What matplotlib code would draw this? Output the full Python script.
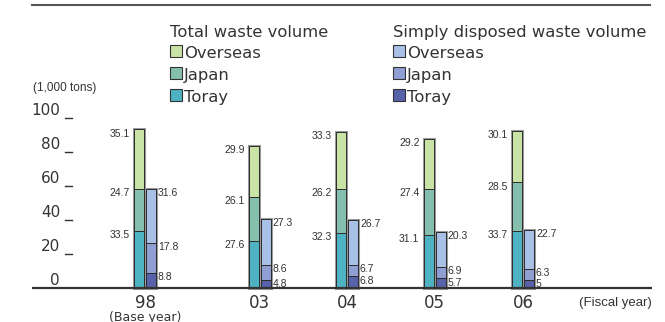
import matplotlib
matplotlib.use("Agg")
import matplotlib.pyplot as plt
from matplotlib.patches import Rectangle

# fiscal years and waste volumes (1,000 tons)
years = ["98", "03", "04", "05", "06"]
total_toray = [33.5, 27.6, 32.3, 31.1, 33.7]
total_japan = [24.7, 26.1, 26.2, 27.4, 28.5]
total_overseas = [35.1, 29.9, 33.3, 29.2, 30.1]
disp_toray = [8.8, 4.8, 6.8, 5.7, 5]
disp_japan = [17.8, 8.6, 6.7, 6.9, 6.3]
disp_overseas = [31.6, 27.3, 26.7, 20.3, 22.7]
yticks = [0, 20, 40, 60, 80, 100]

group_x = [145, 259.5, 347, 434.5, 523]

c_total = ["#4db3c2", "#85bfae", "#c9e2a6"]
c_disp = ["#5862ab", "#8f9ed3", "#a9c0e6"]

small = "Liberation Sans"
ink = "#333333"

W, H = 665, 322
fig = plt.figure(figsize=(W / 100, H / 100), dpi=100)

# bars: x in pixel units, y in thousand tons (0 at 288 px, 1.7 px per unit)
ax = fig.add_axes([0, 0, 1, 1])
ax.set_xlim(0, W)
ax.set_ylim(-(H - 288) / 1.7, 288 / 1.7)
ax.axis("off")

# overlay in pixel coordinates for legend and captions
lay = fig.add_axes([0, 0, 1, 1], zorder=3)
lay.set_xlim(0, W)
lay.set_ylim(H, 0)
lay.axis("off")
lay.patch.set_alpha(0)

bw = 10
off = 6


def stack(x, parts, colors, side):
    bottom = 0
    ax.bar(x, sum(parts), bw, bottom=0, fill=False, edgecolor="#9a9a9a",
           linewidth=2.2, zorder=2)
    for v, c in zip(parts, colors):
        ax.bar(x, v, bw, bottom=bottom, color=c, edgecolor="#2b2b2b",
               linewidth=0.7, zorder=3)
        bottom += v
        if side == "left":
            ax.text(x - bw / 2 - 4, bottom - 2.5, f"{v:g}", ha="right",
                    va="center", fontsize=7.5, family=small, color=ink)
        else:
            ax.text(x + bw / 2 + 2, bottom - 2.5, f"{v:g}", ha="left",
                    va="center", fontsize=7.5, family=small, color=ink)


for i, gx in enumerate(group_x):
    stack(gx - off, [total_toray[i], total_japan[i], total_overseas[i]],
          c_total, "left")
    stack(gx + off, [disp_toray[i], disp_japan[i], disp_overseas[i]],
          c_disp, "right")
    lay.text(gx, 303, years[i], ha="center", va="center", fontsize=12,
             color=ink)

lay.text(group_x[0], 317, "(Base year)", ha="center", va="center",
         fontsize=9, color=ink)

# baseline and y ticks
ax.plot([32, 652], [0, 0], color=ink, linewidth=1.6, zorder=4,
        solid_capstyle="butt")
for t in yticks:
    ax.text(60, t + 1.8, str(t), ha="right", va="baseline", fontsize=11,
            color=ink)
    if t > 0:
        ax.plot([65, 72], [t, t], color=ink, linewidth=1.0)

lay.text(33, 88, "(1,000 tons)", ha="left", va="center", fontsize=8.5,
         family=small, color=ink)
lay.text(652, 303, "(Fiscal year)", ha="right", va="center", fontsize=9.5,
         family=small, color=ink)

# top rule
lay.plot([32, 650], [5, 5], color="#555555", linewidth=1.5)

# legends
labels = ["Overseas", "Japan", "Toray"]


def legend(x0, title, colors):
    lay.text(x0, 37, title, ha="left", va="baseline", fontsize=11.8,
             color=ink)
    for k, (lab, c) in enumerate(zip(labels, colors[::-1])):
        y = 45 + k * 22
        lay.add_patch(Rectangle((x0, y), 12, 12, facecolor=c,
                                edgecolor=ink, linewidth=0.8))
        lay.text(x0 + 14, y + 13, lab, ha="left", va="baseline",
                 fontsize=11.8, color=ink)


legend(170, "Total waste volume", c_total)
legend(393, "Simply disposed waste volume", c_disp)

fig.savefig("out.png", dpi=100)
